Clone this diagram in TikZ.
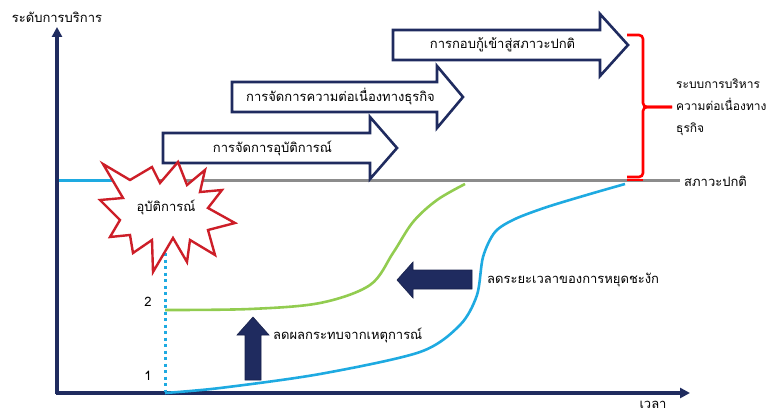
\documentclass[tikz,border=0pt]{standalone}
\usepackage{fontspec}
\setmainfont[Script=Thai]{Loma}
\usetikzlibrary{arrows.meta}

\definecolor{navy}{RGB}{31,43,95}
\definecolor{okgreen}{RGB}{146,204,80}
\definecolor{skyblue}{RGB}{30,170,225}
\definecolor{burstred}{RGB}{205,30,40}

% block arrow with text: tail x, head x, tip x, middle y, text
\newcommand{\phasearrow}[6]{%
  \draw[phase] (#1,#4-15) -- (#2,#4-15) -- (#2,#4-31) -- (#3,#4)
    -- (#2,#4+31) -- (#2,#4+15) -- (#1,#4+15) -- cycle;
  \node[lbl] (#6) at ({(#1+#2)/2+6},#4) {#5};}

\begin{document}
\begin{tikzpicture}[x=1pt, y=-1pt,
  axis/.style={navy, line width=3.2pt, -{Triangle[length=10pt,width=10pt]}},
  phase/.style={draw=navy, fill=white, line width=2.6pt, line join=miter},
  fatarrow/.style={draw=navy!80!black, fill=navy, line width=0.6pt},
  lbl/.style={font=\fontsize{13}{15}\selectfont, inner sep=1pt},
  level/.style={line width=3pt}]
  \useasboundingbox (0,0) rectangle (770,414);

  % normal level line
  \draw[level, skyblue] (57,180) -- (147,180);
  \draw[level, gray!90] (147,180) -- (680,180);
  \node[lbl, right] (normal) at (683,181) {สภาวะปกติ};

  % axes
  \draw[axis] (57,394) -- (57,27);
  \draw[axis] (55.5,393) -- (690,393);
  \node[lbl] (ylab) at (57,17) {ระดับการบริการ};
  \node[lbl] (xlab) at (653,405) {เวลา};

  % phases
  \phasearrow{163}{370}{397}{148}{การจัดการอุบัติการณ์}{incident}
  \phasearrow{232}{437}{463}{97}{การจัดการความต่อเนื่องทางธุรกิจ}{bcm}
  \phasearrow{393}{600}{628}{45}{การกอบกู้เข้าสู่สภาวะปกติ}{recovery}

  % bracket for the whole system
  \draw[red, line width=2.6pt, rounded corners=4pt]
    (627,35) -- (643,35) -- (643,107) -- (672,107);
  \draw[red, line width=2.6pt, rounded corners=4pt]
    (672,107) -- (643,107) -- (643,177) -- (627,177);
  \node[lbl, font=\fontsize{12}{14}\selectfont, right, align=left] (bcms) at (675,107)
    {ระบบการบริหาร\\[8pt]ความต่อเนื่องทาง\\[8pt]ธุรกิจ};

  % dotted line from the incident down
  \draw[skyblue, line width=3pt, dash pattern=on 3pt off 3.5pt] (165,240) -- (165,392);
  \node[lbl] (two) at (148,302) {2};
  \node[lbl] (one) at (148,376) {1};

  % recovery curves
  \draw[okgreen, line width=2.6pt] plot[smooth, tension=0.55] coordinates
    {(165,310) (250,309) (320,303) (370,285) (393,253) (413,222) (437,200) (465,184)};
  \draw[skyblue, line width=2.6pt] plot[smooth, tension=0.5] coordinates
    {(165,393) (220,388) (320,374) (420,352) (460,325) (477,295) (483,257)
     (495,232) (515,219) (547,207) (590,194) (625,184)};
  \draw[red, line width=2.6pt] (627,180) -- (643,180);

  % incident burst
  \draw[burstred, fill=white, line width=2.4pt, line join=miter]
    (103,164) -- (130,180) -- (152,167) -- (160,183) -- (178,162) -- (187,185)
    -- (205,170) -- (200,192) -- (222,190) -- (208,208) -- (235,223) -- (208,230)
    -- (215,255) -- (190,240) -- (187,262) -- (173,238) -- (153,272) -- (152,240)
    -- (133,253) -- (130,235) -- (110,237) -- (120,220) -- (100,200) -- (123,198)
    -- cycle;
  \node[lbl] (event) at (166,207) {อุบัติการณ์};

  % impact and downtime arrows
  \draw[fatarrow] (245,380) -- (245,335) -- (237,335) -- (253,317) -- (269,335)
    -- (261,335) -- (261,380) -- cycle;
  \node[lbl, right] (impact) at (272,335) {ลดผลกระทบจากเหตุการณ์};
  \draw[fatarrow] (472,270) -- (413,270) -- (413,262) -- (397,280) -- (413,298)
    -- (413,289) -- (472,289) -- cycle;
  \node[lbl, right] (downtime) at (486,280) {ลดระยะเวลาของการหยุดชะงัก};
\end{tikzpicture}
\end{document}
